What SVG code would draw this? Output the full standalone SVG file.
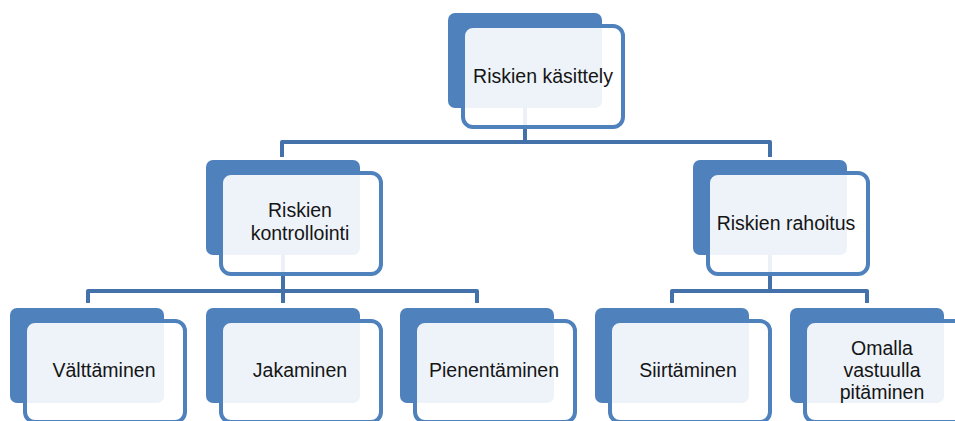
<svg xmlns="http://www.w3.org/2000/svg" width="955" height="421" viewBox="0 0 955 421">
<style>
.back{fill:#4F81BD;}
.front{fill:#FFFFFF;fill-opacity:0.9;stroke:#4F81BD;stroke-width:4;}
.conn{fill:none;stroke:#4471AA;stroke-width:4;stroke-linejoin:round;}
text{font-family:"Liberation Sans",Arial,sans-serif;font-size:19.5px;fill:#151515;text-anchor:middle;}
</style>
<rect width="955" height="421" fill="#FFFFFF"/>
<g id="connectors">
<path class="conn" d="M525,107 V142 M282,157 V142 H770 V157"/>
<path class="conn" d="M283,255 V303 M88,303 V291 H477 V303"/>
<path class="conn" d="M770,255 V291 M672,303 V291 H867 V303"/>
</g>
<g id="n-kasittely">
<rect class="back" x="448" y="13" width="154" height="95" rx="7"/>
<rect class="front" x="463" y="26" width="160" height="101" rx="10"/>
<text x="543" y="83">Riskien käsittely</text>
</g>
<g id="n-kontrollointi">
<rect class="back" x="206" y="160" width="154" height="95" rx="7"/>
<rect class="front" x="221" y="173" width="160" height="101" rx="10"/>
<text x="300" y="217">Riskien</text>
<text x="300" y="240">kontrollointi</text>
</g>
<g id="n-rahoitus">
<rect class="back" x="693" y="160" width="154" height="95" rx="7"/>
<rect class="front" x="708" y="173" width="160" height="101" rx="10"/>
<text x="786" y="230">Riskien rahoitus</text>
</g>
<g id="n-valttaminen">
<rect class="back" x="10" y="308" width="154" height="95" rx="7"/>
<rect class="front" x="25" y="321" width="160" height="101" rx="10"/>
<text x="104" y="377">Välttäminen</text>
</g>
<g id="n-jakaminen">
<rect class="back" x="206" y="308" width="154" height="95" rx="7"/>
<rect class="front" x="221" y="321" width="160" height="101" rx="10"/>
<text x="300" y="377">Jakaminen</text>
</g>
<g id="n-pienentaminen">
<rect class="back" x="400" y="308" width="154" height="95" rx="7"/>
<rect class="front" x="415" y="321" width="160" height="101" rx="10"/>
<text x="494" y="377">Pienentäminen</text>
</g>
<g id="n-siirtaminen">
<rect class="back" x="595" y="308" width="154" height="95" rx="7"/>
<rect class="front" x="610" y="321" width="160" height="101" rx="10"/>
<text x="688" y="377">Siirtäminen</text>
</g>
<g id="n-omalla">
<rect class="back" x="790" y="308" width="154" height="95" rx="7"/>
<rect class="front" x="805" y="321" width="160" height="101" rx="10"/>
<text x="882" y="355">Omalla</text>
<text x="882" y="377">vastuulla</text>
<text x="882" y="399">pitäminen</text>
</g>
</svg>
